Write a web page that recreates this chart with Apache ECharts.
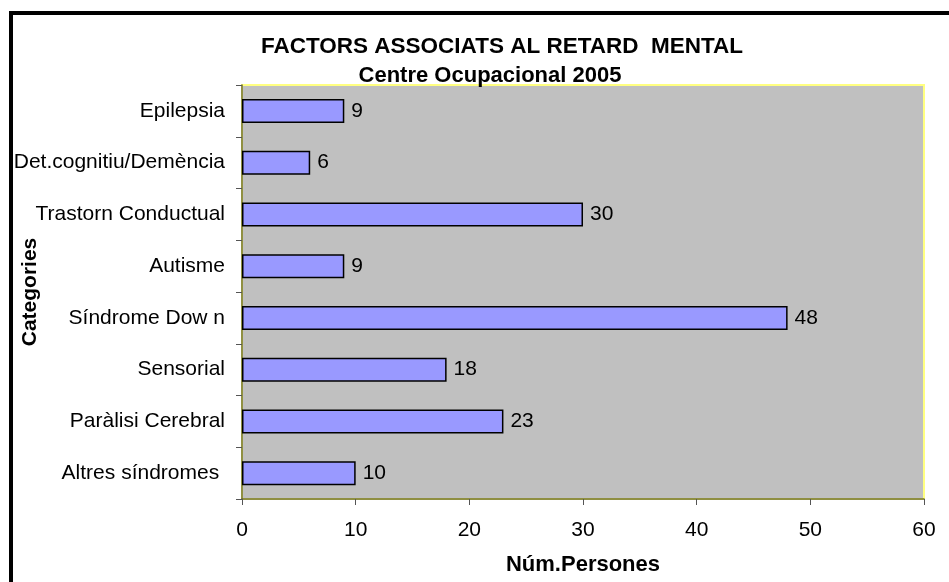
<!DOCTYPE html>
<html>
<head>
<meta charset="utf-8">
<script src="https://cdn.jsdelivr.net/npm/echarts@6/dist/echarts.min.js"></script>
<style>
html,body{margin:0;padding:0;background:#fff;}
#c{width:949px;height:582px;}
</style>
</head>
<body>
<div id="c"></div>
<script>
const categories = ['Epilepsia','Det.cognitiu/Demència','Trastorn Conductual','Autisme','Síndrome Dow n','Sensorial','Paràlisi Cerebral','Altres síndromes '];
const values = [9, 6, 30, 9, 48, 18, 23, 10];
const xTicks = [0, 10, 20, 30, 40, 50, 60];
const titleText = 'FACTORS ASSOCIATS AL RETARD  MENTAL';
const subtitleText = 'Centre Ocupacional 2005';
const xName = 'Núm.Persones';
const yName = 'Categories';

const F = '"Liberation Sans", Arial, sans-serif';
const chart = echarts.init(document.getElementById('c'));
chart.setOption({
  backgroundColor: '#fff',
  animation: false,
  title: [
    {text: titleText, left: 497, top: 30, textAlign: 'center',
     textStyle: {fontFamily: F, fontSize: 22.5, fontWeight: 'bold', color: '#000'}},
    {text: subtitleText, left: 485, top: 60, textAlign: 'center',
     textStyle: {fontFamily: F, fontSize: 22, fontWeight: 'bold', color: '#000'}}
  ],
  graphic: [{
    type: 'rect', silent: true, z: 100,
    shape: {x: 11, y: 13, width: 1200, height: 1200},
    style: {fill: 'none', stroke: '#000', lineWidth: 4}
  }],
  grid: {left: 242, right: 25, top: 85, bottom: 83, show: true, outerBoundsMode: 'none',
         backgroundColor: '#C0C0C0', borderColor: '#FFFF80', borderWidth: 2},
  xAxis: {
    type: 'value', min: xTicks[0], max: xTicks[xTicks.length-1], interval: 10,
    splitLine: {show: false},
    axisLine: {show: true, lineStyle: {color: '#6B6B2E', width: 1.5}},
    axisTick: {show: true, length: 6, lineStyle: {color: '#555'}},
    axisLabel: {fontFamily: F, fontSize: 21, color: '#000', margin: 21},
    name: xName, nameLocation: 'middle', nameGap: 55, nameMoveOverlap: false,
    nameTextStyle: {fontFamily: F, fontSize: 22, fontWeight: 'bold', color: '#000'}
  },
  yAxis: {
    type: 'category', data: categories, inverse: true,
    axisLine: {show: true, lineStyle: {color: '#6B6B2E', width: 1.5}},
    axisTick: {show: true, length: 6, lineStyle: {color: '#555'}},
    axisLabel: {fontFamily: F, fontSize: 21, color: '#000', margin: 17},
    name: yName, nameLocation: 'middle', nameGap: 201, nameRotate: 90, nameMoveOverlap: false,
    nameTextStyle: {fontFamily: F, fontSize: 21, fontWeight: 'bold', color: '#000'}
  },
  series: [{
    type: 'bar', data: values, barWidth: 24,
    itemStyle: {color: '#9999FF', borderColor: '#000', borderWidth: 1.5},
    label: {show: true, position: 'right', distance: 7,
            fontFamily: F, fontSize: 21, color: '#000'}
  }]
});
</script>
</body>
</html>
